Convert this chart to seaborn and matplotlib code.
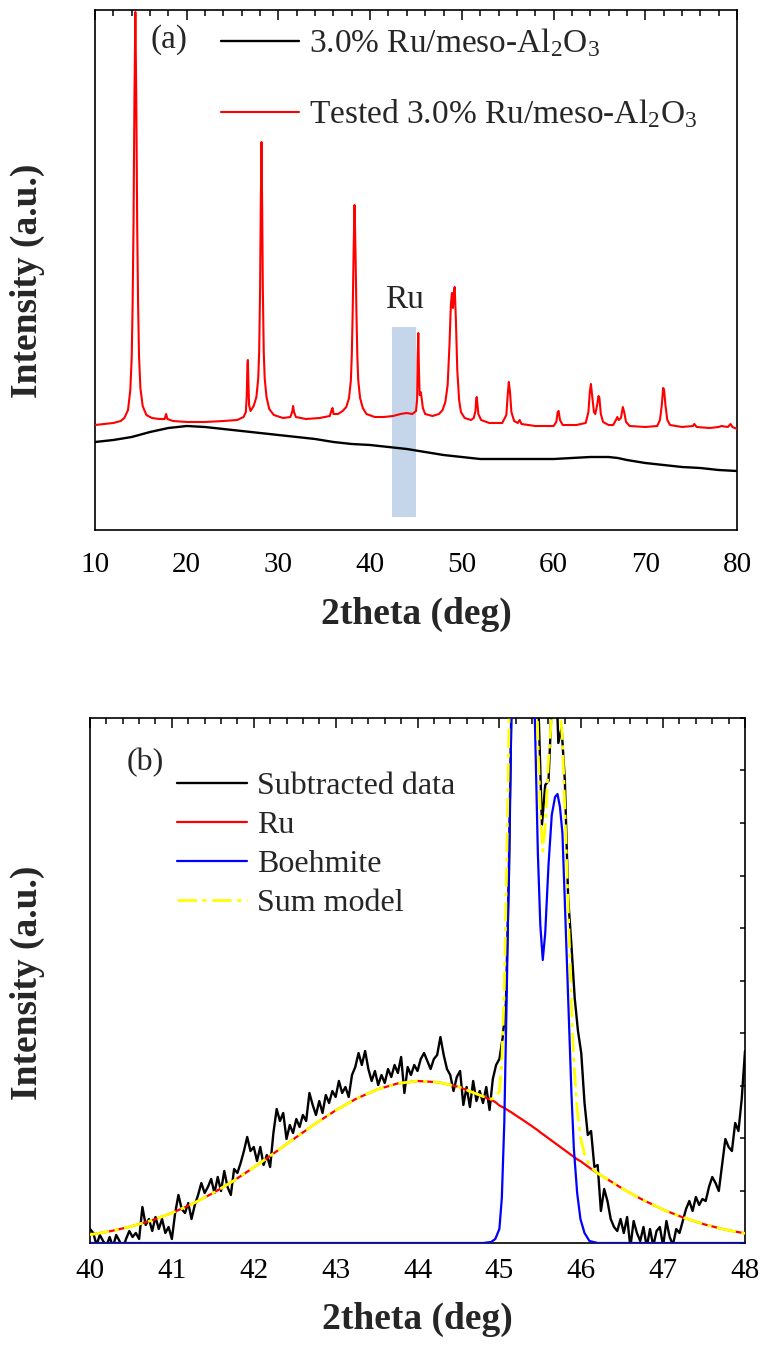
import numpy as np
import pandas as pd
import matplotlib
matplotlib.use("Agg")
import matplotlib.pyplot as plt
from matplotlib.ticker import MultipleLocator
import seaborn as sns

# ---------------- data: panel (a) ----------------
fresh_x = [10, 12, 14, 16, 18, 20, 22, 24, 26, 28, 30, 32, 34, 36, 38, 40, 42, 44, 46, 48,
           50, 52, 54, 56, 58, 60, 62, 64, 66, 67, 68, 70, 72, 74, 76, 78, 80]
fresh_y = [88, 90, 93, 98, 102, 104, 103, 101, 99, 97, 95, 93, 91, 88, 86, 85, 83, 81, 78, 75,
           73, 71, 71, 71, 71, 71, 72, 73, 73, 72, 70, 67, 65, 63, 62, 60, 59]

tested_pts = [
    (10.0, 105), (11.0, 106), (12.0, 107), (12.8, 109), (13.2, 112), (13.6, 120), (13.85, 140),
    (14.0, 172), (14.1, 225), (14.2, 305), (14.3, 432), (14.4, 518), (14.5, 432), (14.6, 305),
    (14.7, 225), (14.8, 174), (14.95, 142), (15.2, 124), (15.6, 115), (16.2, 112), (17.0, 111),
    (17.6, 111), (17.75, 116), (17.9, 111), (18.5, 109), (20.0, 108), (22.0, 108), (24.0, 109),
    (25.5, 110), (26.2, 113), (26.45, 118), (26.55, 135), (26.62, 165), (26.67, 170), (26.72, 150),
    (26.8, 125), (26.95, 119), (27.3, 124), (27.6, 133), (27.8, 152), (27.9, 178), (28.0, 240),
    (28.07, 320), (28.15, 388), (28.23, 320), (28.3, 240), (28.4, 178), (28.5, 152), (28.7, 133),
    (29.0, 121), (29.5, 115), (30.5, 112), (31.3, 113), (31.5, 118), (31.6, 124), (31.7, 118),
    (31.9, 113), (33.0, 111), (34.5, 112), (35.6, 114), (35.8, 120), (35.9, 122), (36.0, 116),
    (36.5, 116), (37.0, 119), (37.4, 123), (37.7, 132), (37.9, 150), (38.0, 175), (38.1, 220),
    (38.2, 280), (38.3, 325), (38.4, 280), (38.5, 220), (38.6, 175), (38.7, 150), (38.9, 132),
    (39.2, 122), (39.6, 116), (40.5, 113), (41.5, 113), (42.5, 114), (43.3, 116), (44.0, 117),
    (44.6, 116), (45.0, 119), (45.12, 130), (45.18, 170), (45.25, 197), (45.32, 160), (45.4, 135),
    (45.5, 138), (45.6, 133), (45.75, 122), (46.0, 116), (46.8, 114), (47.5, 116), (47.9, 120),
    (48.2, 128), (48.45, 145), (48.65, 185), (48.8, 225), (48.92, 237), (49.03, 222), (49.15, 240),
    (49.22, 243), (49.35, 210), (49.5, 160), (49.7, 130), (49.9, 118), (50.3, 112), (51.0, 110),
    (51.3, 112), (51.48, 119), (51.56, 130), (51.62, 133), (51.7, 126), (51.8, 116), (52.1, 110),
    (53.0, 107), (54.4, 107), (54.85, 115), (55.0, 135), (55.12, 148), (55.25, 138), (55.4, 118),
    (55.7, 109), (56.1, 107), (56.3, 110), (56.5, 106), (58.0, 104), (60.0, 104), (60.3, 108),
    (60.45, 118), (60.55, 119), (60.7, 110), (61.0, 105), (62.5, 105), (63.5, 107), (63.8, 118),
    (63.95, 138), (64.07, 146), (64.2, 135), (64.4, 118), (64.55, 116), (64.75, 125), (64.9, 134),
    (65.0, 132), (65.15, 116), (65.4, 108), (66.0, 105), (66.5, 105), (66.8, 110), (66.95, 113),
    (67.1, 110), (67.35, 112), (67.55, 123), (67.7, 118), (67.9, 108), (68.3, 104), (70.0, 103),
    (71.3, 104), (71.6, 110), (71.8, 125), (71.95, 142), (72.05, 140), (72.2, 125), (72.4, 110),
    (72.7, 105), (74.0, 103), (75.2, 104), (75.35, 106), (75.6, 103), (77.0, 102), (78.0, 103),
    (78.3, 104), (79.0, 103), (79.3, 106), (79.5, 103), (80.0, 101),
]

ru_band = (42.35, 44.95)
top_xticks = [10, 20, 30, 40, 50, 60, 70, 80]

# ---------------- data: panel (b) ----------------
# subtracted data, sampled every 0.04 deg from 40.00 to 48.00
sub_y = [
    14, 10, -2, 8, 2, -3, 6, -4, 8, 2, -6, 4, 12, 6, 10, 4, 36, 18, 24, 12, 26, 14, 24, 10, 16,
    4, 30, 48, 34, 30, 40, 24, 38, 48, 60, 50, 56, 64, 50, 66, 52, 72, 56, 48, 74, 70, 80, 92, 106, 92,
    96, 82, 96, 78, 88, 76, 110, 134, 122, 130, 104, 118, 110, 124, 116, 128, 122, 150, 138, 128, 142, 130, 148, 140, 152,
    146, 162, 150, 156, 146, 168, 176, 190, 178, 192, 174, 162, 172, 158, 168, 160, 174, 166, 178, 170, 186, 150, 176, 168, 178,
    172, 184, 190, 182, 174, 184, 188, 206, 188, 174, 168, 152, 166, 172, 138, 156, 136, 162, 142, 152, 140, 156, 133, 164, 178,
    184, 205, 240, 380, 620, 800, 900, 950, 950, 900, 800, 640, 530, 418, 458, 462, 540, 600, 500, 515, 462, 345, 298, 245, 212,
    190, 140, 108, 112, 76, 78, 32, 54, 42, 24, 16, 12, 24, 10, 26, -4, 22, 10, 2, 16, -4, 14, -3, 12, 16,
    -3, 22, 6, -2, 14, 10, 22, 34, 42, 32, 46, 38, 44, 42, 56, 66, 60, 52, 78, 104, 96, 92, 120, 112, 144,
    192,
]
sub_x = np.linspace(40.0, 48.0, len(sub_y))

# fitted components: (2theta, Ru, Boehmite)
fit_pts = [
    (40.00, 8.3, 0), (40.25, 11.8, 0), (40.50, 16.5, 0), (40.75, 22.5, 0), (41.00, 30.0, 0),
    (41.25, 39.1, 0), (41.50, 49.8, 0), (41.75, 62.0, 0), (42.00, 75.6, 0), (42.25, 90.0, 0),
    (42.50, 104.7, 0), (42.75, 119.2, 0), (43.00, 132.6, 0), (43.25, 144.2, 0), (43.50, 153.3, 0),
    (43.75, 159.4, 0), (44.00, 162.0, 0), (44.25, 160.8, 0), (44.50, 156.2, 0), (44.75, 148.2, 0),
    (44.80, 146.5, 0), (44.90, 143.0, 1), (44.95, 141.0, 4), (45.00, 137.5, 14), (45.03, 136.3, 45),
    (45.06, 135.0, 120), (45.09, 133.5, 250), (45.12, 132.0, 400), (45.15, 130.5, 540),
    (45.20, 127.7, 720), (45.30, 122.3, 820), (45.40, 116.7, 640), (45.44, 114.4, 500),
    (45.47, 112.7, 390), (45.50, 110.6, 318), (45.53, 108.9, 283), (45.56, 107.1, 310),
    (45.60, 104.7, 378), (45.64, 102.3, 428), (45.68, 99.9, 446), (45.71, 98.1, 449),
    (45.74, 96.3, 436), (45.77, 94.5, 410), (45.80, 92.7, 340), (45.84, 90.3, 245),
    (45.88, 87.9, 150), (45.91, 86.1, 94), (45.95, 83.7, 50), (45.99, 81.9, 24), (46.04, 78.9, 10),
    (46.10, 75.3, 2), (46.20, 69.6, 0), (46.25, 67.3, 0), (46.50, 54.5, 0), (46.75, 43.2, 0),
    (47.00, 33.4, 0), (47.25, 25.3, 0), (47.50, 18.7, 0), (47.75, 13.5, 0), (48.00, 9.6, 0),
]
bot_xticks = [40, 41, 42, 43, 44, 45, 46, 47, 48]

# ---------------- frames ----------------
df_fresh = pd.DataFrame({"x": fresh_x, "y": fresh_y})
df_tested = pd.DataFrame(tested_pts, columns=["x", "y"])
df_sub = pd.DataFrame({"x": sub_x, "y": sub_y})
df_fit = pd.DataFrame(fit_pts, columns=["x", "ru", "boe"])
df_fit["sum"] = df_fit["ru"] + df_fit["boe"]

# ---------------- style ----------------
sns.set_theme(style="white")
plt.rcParams["font.family"] = ["Liberation Serif", "DejaVu Serif"]
plt.rcParams["mathtext.fontset"] = "custom"
plt.rcParams["mathtext.rm"] = "Liberation Serif"
plt.rcParams["mathtext.it"] = "Liberation Serif:italic"
plt.rcParams["mathtext.bf"] = "Liberation Serif:bold"
plt.rcParams["axes.edgecolor"] = "black"
plt.rcParams["axes.linewidth"] = 1.2

fig = plt.figure(figsize=(7.6, 13.6), dpi=100)
ax1 = fig.add_axes([95 / 760, 1 - 530 / 1360, 642 / 760, 520 / 1360])
ax2 = fig.add_axes([90 / 760, 1 - 1243 / 1360, 655 / 760, 525 / 1360])

lkw = dict(sort=False, estimator=None)
DASH = [7, 2, 1.5, 2]

# ---- panel (a)
ax1.axvspan(ru_band[0], ru_band[1], ymin=13 / 520, ymax=203 / 520, color="#c5d5ea", lw=0, zorder=1)
sns.lineplot(data=df_fresh, x="x", y="y", ax=ax1, color="black", lw=1.7,
             label=r"3.0% Ru/meso-Al$_2$O$_3$", zorder=3, **lkw)
sns.lineplot(data=df_tested, x="x", y="y", ax=ax1, color="red", lw=1.5,
             label=r"Tested 3.0% Ru/meso-Al$_2$O$_3$", zorder=3, **lkw)
ax1.set_xlim(10, 80)
ax1.set_ylim(0, 520)
ax1.set_xticks(top_xticks)
ax1.xaxis.set_minor_locator(MultipleLocator(2))
ax1.yaxis.set_major_locator(MultipleLocator(25))
ax1.tick_params(axis="both", which="both", direction="in", top=True, right=False,
                colors="black", width=1.1)
ax1.tick_params(axis="x", which="major", length=7, labelsize=21, pad=16)
ax1.tick_params(axis="x", which="minor", length=4)
ax1.tick_params(axis="y", which="major", length=3.5, labelleft=False)
ax1.set_xlabel("2theta (deg)", fontsize=27, fontweight="bold")
ax1.set_ylabel("Intensity (a.u.)", fontsize=27, fontweight="bold")
ax1.xaxis.set_label_coords(0.5, -0.128)
ax1.yaxis.set_label_coords(-0.078, 0.48)
ax1.text(0.086, 0.944, "(a)", transform=ax1.transAxes, fontsize=24, va="center", ha="left")
ax1.text(43.7, 230, "Ru", fontsize=24, ha="center", va="center")
ax1.legend(loc="upper left", bbox_to_anchor=(0.196, 0.968), frameon=False, fontsize=24,
           handlelength=2.35, handletextpad=0.3, labelspacing=1.15, borderpad=0, borderaxespad=0)

# ---- panel (b)
sns.lineplot(data=df_sub, x="x", y="y", ax=ax2, color="black", lw=1.7,
             label="Subtracted data", zorder=3, **lkw)
sns.lineplot(data=df_fit, x="x", y="ru", ax=ax2, color="red", lw=1.6,
             label="Ru", zorder=4, **lkw)
sns.lineplot(data=df_fit, x="x", y="boe", ax=ax2, color="blue", lw=1.6,
             label="Boehmite", zorder=4, **lkw)
sns.lineplot(data=df_fit, x="x", y="sum", ax=ax2, color="#ffff00", lw=2.0,
             label="Sum model", zorder=5, **lkw)
ax2.lines[-1].set_dashes(DASH)
ax2.set_xlim(40, 48)
ax2.set_ylim(0, 525)
ax2.set_xticks(bot_xticks)
ax2.xaxis.set_minor_locator(MultipleLocator(0.2))
ax2.yaxis.set_major_locator(MultipleLocator(52.5))
ax2.tick_params(axis="both", which="both", direction="in", top=True, right=True,
                colors="black", width=1.1)
ax2.tick_params(axis="x", which="major", length=7, labelsize=21, pad=10.5)
ax2.tick_params(axis="x", which="minor", length=4)
ax2.tick_params(axis="y", which="major", length=3.5, labelleft=False)
ax2.set_xlabel("2theta (deg)", fontsize=27, fontweight="bold")
ax2.set_ylabel("Intensity (a.u.)", fontsize=27, fontweight="bold")
ax2.xaxis.set_label_coords(0.5, -0.112)
ax2.yaxis.set_label_coords(-0.069, 0.495)
ax2.text(0.056, 0.916, "(b)", transform=ax2.transAxes, fontsize=23, va="center", ha="left")
leg2 = ax2.legend(loc="upper left", bbox_to_anchor=(0.133, 0.898), frameon=False, fontsize=23,
                  handlelength=2.2, handletextpad=0.3, labelspacing=0.3, borderpad=0, borderaxespad=0)
leg2.get_lines()[-1].set_dashes(DASH)

for ax in (ax1, ax2):
    for s in ax.spines.values():
        s.set_color("black")
        s.set_linewidth(1.2)

fig.savefig("out.png", dpi=100)
